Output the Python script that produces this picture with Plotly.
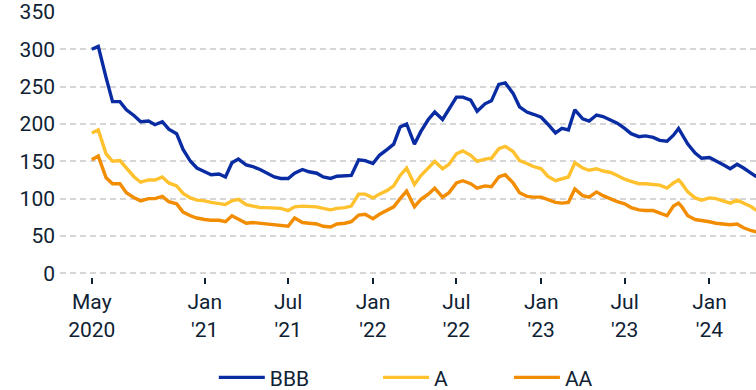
import plotly.graph_objects as go

# Semi-monthly observation dates (extra point for the late-October 2023 peak)
dates = [
    "2020-05-01", "2020-05-15", "2020-06-01", "2020-06-15", "2020-07-01", "2020-07-15",
    "2020-08-01", "2020-08-15", "2020-09-01", "2020-09-15", "2020-10-01", "2020-10-15",
    "2020-11-01", "2020-11-15", "2020-12-01", "2020-12-15",
    "2021-01-01", "2021-01-15", "2021-02-01", "2021-02-15", "2021-03-01", "2021-03-15",
    "2021-04-01", "2021-04-15", "2021-05-01", "2021-05-15", "2021-06-01", "2021-06-15",
    "2021-07-01", "2021-07-15", "2021-08-01", "2021-08-15", "2021-09-01", "2021-09-15",
    "2021-10-01", "2021-10-15", "2021-11-01", "2021-11-15", "2021-12-01", "2021-12-15",
    "2022-01-01", "2022-01-15", "2022-02-01", "2022-02-15", "2022-03-01", "2022-03-15",
    "2022-04-01", "2022-04-15", "2022-05-01", "2022-05-15", "2022-06-01", "2022-06-15",
    "2022-07-01", "2022-07-15", "2022-08-01", "2022-08-15", "2022-09-01", "2022-09-15",
    "2022-10-01", "2022-10-15", "2022-11-01", "2022-11-15", "2022-12-01", "2022-12-15",
    "2023-01-01", "2023-01-15", "2023-02-01", "2023-02-15", "2023-03-01", "2023-03-15",
    "2023-04-01", "2023-04-15", "2023-05-01", "2023-05-15", "2023-06-01", "2023-06-15",
    "2023-07-01", "2023-07-15", "2023-08-01", "2023-08-15", "2023-09-01", "2023-09-15",
    "2023-10-01", "2023-10-15", "2023-10-26", "2023-11-01", "2023-11-15", "2023-12-01",
    "2023-12-15",
    "2024-01-01", "2024-01-15", "2024-02-01", "2024-02-15", "2024-03-01", "2024-03-15",
    "2024-04-01", "2024-04-10", "2024-04-15",
]

# Spreads in basis points
bbb = [
    300, 304, 262, 230, 230, 219, 211, 203, 204, 199, 203, 193, 187, 166, 150, 141,
    136, 132, 133, 129, 148, 153, 145, 143, 139, 134, 129, 127, 127, 134, 139, 136,
    134, 129, 127, 130, 130, 131, 152, 151,
    147, 158, 166, 173, 196, 200, 173, 190, 206, 216, 206, 220, 236, 236, 232, 217,
    227, 231, 253, 255, 241, 223, 216, 213,
    209, 200, 188, 194, 192, 219, 207, 204, 212, 210, 205, 201, 194, 187, 183, 184,
    182, 178, 177, 185, 194, 188, 173, 161, 154,
    155, 151, 145, 140, 146, 141, 134, 130, 131,
]

a_rated = [
    188, 192, 160, 150, 151, 141, 129, 122, 125, 125, 129, 121, 117, 107, 101, 98,
    97, 95, 93, 92, 97, 99, 92, 90, 88, 88, 87, 87, 84, 89, 90, 90,
    89, 87, 85, 87, 88, 90, 106, 106,
    101, 106, 111, 117, 131, 141, 119, 131, 141, 150, 140, 146, 160, 164, 158, 150,
    153, 154, 167, 170, 163, 151, 147, 143,
    140, 130, 124, 127, 129, 148, 141, 138, 140, 137, 135, 131, 126, 123, 120, 120,
    119, 118, 114, 121, 125, 121, 109, 101, 98,
    101, 100, 97, 94, 98, 94, 89, 85, 85,
]

aa = [
    152, 157, 128, 120, 120, 108, 101, 97, 100, 100, 103, 96, 93, 82, 77, 74,
    72, 71, 71, 69, 77, 72, 67, 68, 67, 67, 66, 64, 63, 74, 68, 67,
    66, 63, 62, 66, 67, 69, 78, 79,
    73, 79, 85, 89, 100, 110, 89, 99, 106, 114, 102, 108, 121, 124, 120, 114,
    117, 116, 129, 132, 121, 108, 103, 102,
    102, 99, 95, 94, 95, 113, 104, 102, 109, 104, 99, 96, 93, 88, 85, 84,
    84, 81, 77, 90, 94, 90, 77, 72, 71,
    69, 67, 66, 65, 66, 61, 57, 55, 55,
]

series_names = ["BBB", "A", "AA"]
series_colors = ["#0a2ca3", "#ffc22e", "#f28c00"]

tick_dates = ["2020-05-01", "2021-01-01", "2021-07-01", "2022-01-01",
              "2022-07-01", "2023-01-01", "2023-07-01", "2024-01-01"]
tick_text = ["May<br>2020", "Jan<br>'21", "Jul<br>'21", "Jan<br>'22",
             "Jul<br>'22", "Jan<br>'23", "Jul<br>'23", "Jan<br>'24"]

text_color = "#0f2233"
font_family = "Roboto, Arial, sans-serif"

fig = go.Figure()
legend_ids = ["legend", "legend2", "legend3"]
for values, name, color, lg in zip([bbb, a_rated, aa], series_names, series_colors, legend_ids):
    fig.add_trace(go.Scatter(
        x=dates, y=values, name=name, mode="lines",
        line=dict(color=color, width=3.4),
        legend=lg,
    ))

legend_common = dict(
    orientation="h", yanchor="middle", xanchor="left",
    font=dict(family=font_family, size=21, color=text_color),
    bgcolor="rgba(0,0,0,0)", itemwidth=46,
)

legend_y = -0.38

fig.update_layout(
    width=756, height=390,
    margin=dict(l=60, r=0, t=12, b=113, autoexpand=False),
    paper_bgcolor="white", plot_bgcolor="white",
    font=dict(family=font_family, size=21, color=text_color),
    showlegend=True,
    legend=dict(x=0.221, y=legend_y, **legend_common),
    legend2=dict(x=0.457, y=legend_y, **legend_common),
    legend3=dict(x=0.645, y=legend_y, **legend_common),
    xaxis=dict(
        type="date",
        range=["2020-02-22", "2024-04-11"],
        tickvals=tick_dates, ticktext=tick_text,
        ticks="outside", ticklen=6, tickwidth=2, tickcolor=text_color,
        showgrid=False, showline=False, zeroline=False, automargin=False,
        tickfont=dict(family=font_family, size=21, color=text_color),
    ),
    yaxis=dict(
        range=[-5, 350],
        tickvals=[0, 50, 100, 150, 200, 250, 300, 350],
        showgrid=True, gridcolor="#d6d6d6", gridwidth=2, griddash="6px,4px",
        zeroline=False, showline=False, ticks="", automargin=False,
        ticklabelstandoff=4,
        tickfont=dict(family=font_family, size=21, color=text_color),
    ),
)

fig.write_html("out.html")
